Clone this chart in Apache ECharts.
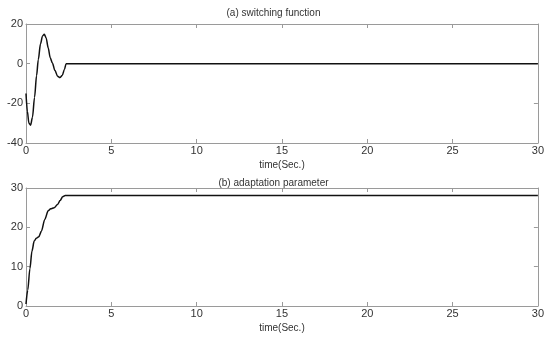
<!DOCTYPE html>
<html><head><meta charset="utf-8">
<script src="https://cdn.jsdelivr.net/npm/echarts@6/dist/echarts.min.js"></script>
<style>html,body{margin:0;padding:0;background:#fff}#c{width:547px;height:339px}</style>
</head><body><div id="c"></div>
<script>
const titles = ['(a) switching function', '(b) adaptation parameter'];
const xLabel = 'time(Sec.)';
const switchT = [0,0.08,0.17,0.27,0.38,0.5,0.62,0.72,0.85,0.97,1.07,1.18,1.3,1.42,1.54,1.7,1.85,1.99,2.12,2.25,2.35,30];
const switchV = [-15,-24,-30,-31,-27,-17,-6,2,10,14,14.8,13,8,3,0.5,-3.5,-6.3,-7,-6,-3,0,0];
const adaptT = [0,0.1,0.23,0.35,0.48,0.6,0.75,0.9,1.1,1.3,1.45,1.65,1.85,2.0,2.15,2.3,30];
const adaptV = [0.5,4,9.5,14,16.5,17.2,17.6,19,22,24.2,24.7,25,25.8,26.8,27.8,28.1,28.1];
const xTicks = [0,5,10,15,20,25,30];
const yTicksA = [-40,-20,0,20];
const yTicksB = [0,10,20,30];

const axisGrey = '#9a9a9a';
const txt = '#333';
const font = 'Liberation Sans, Arial, sans-serif';
function xa(grid, main){
  return {type:'value', gridIndex:grid, min:0, max:30, interval:5, position: main?'bottom':'top',
    axisLine:{show:true, onZero:false, lineStyle:{color:axisGrey}}, axisTick:{show:true, inside:true, length:4, lineStyle:{color:axisGrey}},
    axisLabel:{show:main, color:txt, fontSize:11, fontFamily:font, margin:2},
    splitLine:{show:false},
    name: main? xLabel : '', nameLocation:'middle', nameGap:17, nameTextStyle:{color:txt, fontSize:10, fontFamily:font}};
}
function ya(grid, main, min, max, interval){
  return {type:'value', gridIndex:grid, min:min, max:max, interval:interval, position: main?'left':'right',
    axisLine:{show:true, onZero:false, lineStyle:{color:axisGrey}}, axisTick:{show:true, inside:true, length:4, lineStyle:{color:axisGrey}},
    axisLabel:{show:main, color:txt, fontSize:11, fontFamily:font, margin:3},
    splitLine:{show:false}};
}
const chart = echarts.init(document.getElementById('c'), null, {renderer:'canvas'});
chart.setOption({
  backgroundColor:'#fff',
  animation:false,
  title:[
    {text:titles[0], left:'center', top:3, textStyle:{fontSize:10, fontWeight:'normal', color:txt, fontFamily:font}},
    {text:titles[1], left:'center', top:173, textStyle:{fontSize:10, fontWeight:'normal', color:txt, fontFamily:font}}
  ],
  grid:[
    {left:26, top:24, width:514, height:119},
    {left:26, top:188, width:514, height:118}
  ],
  xAxis:[xa(0,true), xa(0,false), xa(1,true), xa(1,false)],
  yAxis:[ya(0,true,-40,20,20), ya(0,false,-40,20,20), ya(1,true,0,30,10), ya(1,false,0,30,10)],
  series:[
    {type:'line', xAxisIndex:0, yAxisIndex:0, data: switchT.map((t,i)=>[t, switchV[i]]), showSymbol:false, smooth:0.3, smoothMonotone:'x',
      lineStyle:{color:'#111', width:1.5}},
    {type:'line', xAxisIndex:2, yAxisIndex:2, data: adaptT.map((t,i)=>[t, adaptV[i]]), showSymbol:false, smooth:0.3, smoothMonotone:'x',
      lineStyle:{color:'#111', width:1.5}}
  ]
});
</script></body></html>
